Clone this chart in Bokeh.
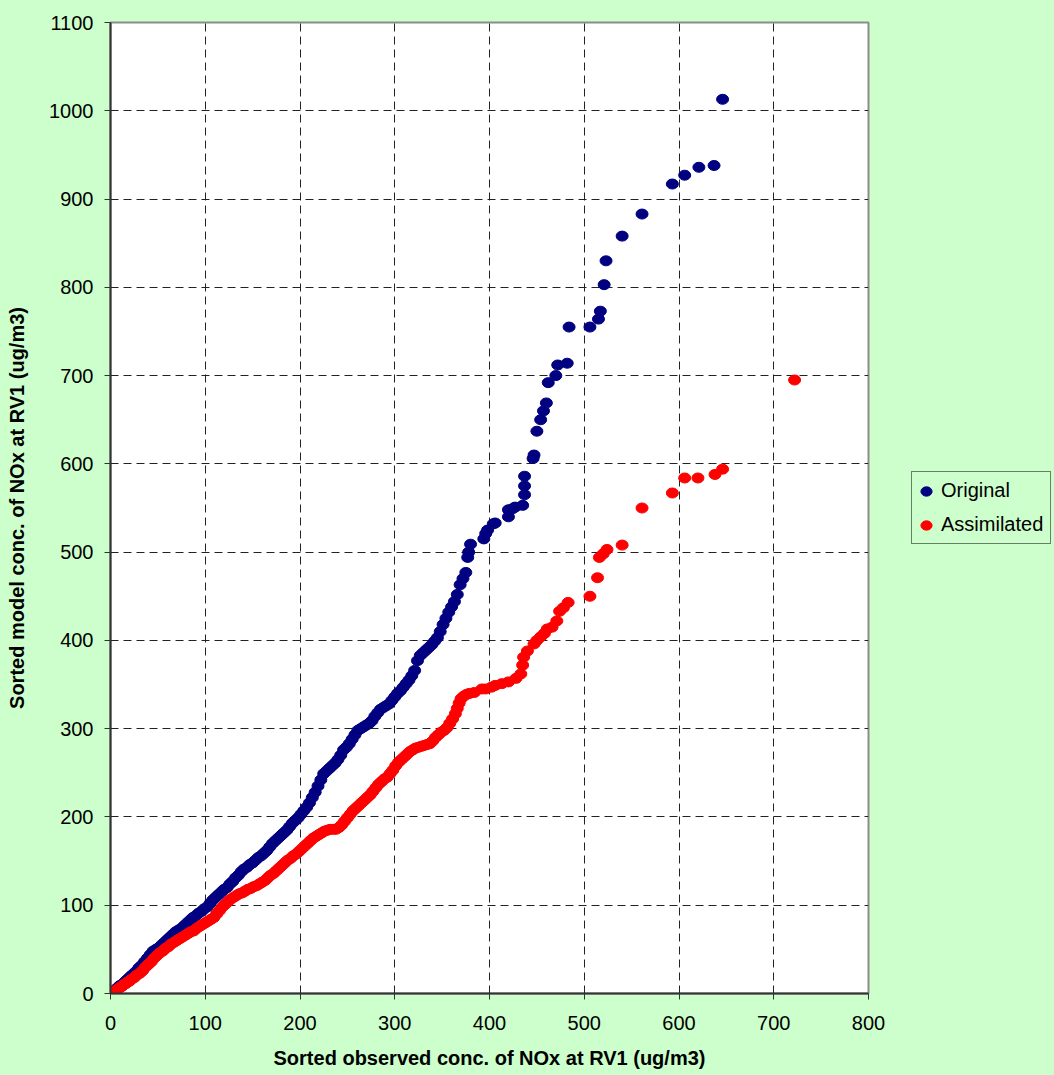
from bokeh.plotting import figure
from bokeh.models import Range1d, Legend, LegendItem, FixedTicker
from bokeh.layouts import row
from bokeh.embed import file_html
from bokeh.resources import INLINE

# Sorted observed (x) vs sorted model (y), NOx at RV1 (ug/m3)
orig_x = [0, 2, 4, 6, 8, 10, 12, 14, 16, 18, 20, 22, 24, 27, 30, 33, 36, 39, 42, 45,
          48, 51, 54, 57, 60, 63, 66, 69, 72, 75, 78, 81, 84, 87, 90, 93, 96, 99, 102, 105,
          108, 111, 114, 117, 120, 123, 126, 129, 132, 135, 138, 141, 144, 147, 150, 153, 156, 159, 162, 165,
          168, 171, 174, 177, 180, 183, 186, 189, 192, 195, 198, 201, 204, 207, 210, 213, 216, 219, 222, 225,
          228, 231, 234, 237, 240, 243, 246, 249, 252, 255, 258, 261, 264, 267, 270, 273, 276, 279, 282, 285,
          288, 291, 294, 297, 300, 303, 306, 309, 312, 315, 318, 321, 324, 327, 330, 333, 336, 339, 342, 345,
          348, 351, 354, 357, 360, 363, 366, 369, 372, 375, 377, 378, 380,
          394, 396, 398, 404, 406, 420, 420, 424, 427, 435, 437, 437, 437, 446, 447, 450, 454, 457, 460, 462,
          470, 472, 482, 484, 506, 515, 517, 521, 523, 540, 561, 593, 606, 621, 637, 646]
orig_y = [0, 2, 3, 5, 7, 9, 10, 12, 14, 16, 18, 20, 22, 25, 29, 32, 36, 40, 44, 48,
          50, 52, 55, 58, 61, 64, 67, 70, 72, 74, 77, 80, 83, 86, 88, 91, 93, 96, 98, 102,
          106, 109, 112, 115, 118, 120, 124, 127, 131, 134, 138, 141, 143, 146, 148, 151, 154, 156, 159, 162,
          166, 170, 173, 176, 179, 182, 185, 189, 193, 196, 199, 203, 207, 211, 216, 222, 228, 235, 242, 249,
          252, 255, 258, 261, 265, 270, 276, 279, 283, 288, 293, 298, 300, 302, 304, 306, 309, 314, 318, 322,
          324, 326, 328, 332, 336, 340, 343, 347, 351, 355, 360, 366, 377, 383, 386, 389, 392, 395, 399, 403,
          410, 418, 425, 432, 438, 444, 452, 463, 470, 477, 494, 500, 509,
          515, 521, 525, 532, 533, 540, 548, 549, 551, 553, 565, 575, 586, 606, 610, 637, 650, 660, 669, 692,
          700, 712, 714, 755, 755, 764, 773, 803, 830, 858, 883, 917, 927, 936, 938, 1013]

assim_x = [0, 2, 4, 6, 8, 10, 12, 14, 16, 18, 20, 22, 25, 28, 31, 34, 37, 40, 43, 46,
           49, 52, 55, 58, 61, 64, 67, 70, 73, 76, 79, 82, 85, 88, 91, 94, 97, 100, 103, 106,
           109, 112, 115, 118, 121, 124, 127, 130, 133, 136, 139, 142, 145, 148, 151, 154, 157, 160, 163, 166,
           169, 172, 175, 178, 181, 184, 187, 190, 193, 196, 199, 202, 205, 208, 211, 214, 217, 220, 223, 226,
           229, 232, 235, 238, 241, 244, 247, 250, 253, 256, 259, 262, 265, 268, 271, 274, 277, 280, 283, 286,
           289, 292, 295, 298, 301, 304, 307, 310, 313, 316, 319, 322, 325, 328, 331, 334, 337, 340, 343, 346,
           349, 352, 355, 358, 361, 364, 366, 368, 370, 373, 376, 379,
           384, 392, 396, 402, 406, 413, 420, 428, 433, 435, 436, 440, 447, 450, 454, 458, 461, 466, 471, 474,
           478, 483, 506, 514, 516, 520, 524, 540, 561, 593, 606, 620, 638, 646, 722]
assim_y = [0, 1, 2, 4, 5, 7, 8, 10, 11, 13, 14, 16, 18, 21, 23, 26, 30, 33, 36, 40,
           43, 46, 48, 51, 53, 56, 58, 60, 62, 64, 66, 68, 70, 71, 74, 76, 78, 80, 82, 84,
           86, 90, 94, 98, 101, 104, 107, 109, 111, 113, 114, 116, 118, 119, 121, 122, 124, 126, 128, 131,
           134, 136, 139, 142, 145, 148, 151, 153, 156, 158, 161, 164, 167, 170, 173, 176, 178, 180, 182, 184,
           185, 186, 186, 186, 188, 191, 195, 199, 203, 207, 210, 213, 216, 219, 222, 225, 229, 233, 237, 240,
           243, 245, 249, 253, 258, 262, 265, 268, 271, 274, 276, 278, 279, 280, 281, 282, 283, 286, 290, 293,
           296, 298, 301, 306, 311, 317, 323, 329, 334, 337, 339, 340,
           341, 345, 345, 347, 349, 351, 353, 357, 362, 372, 381, 388, 396, 400, 404, 408, 413, 415, 422, 433,
           437, 443, 450, 471, 494, 498, 503, 508, 550, 567, 584, 584, 588, 594, 695]

x_ticks = [0, 100, 200, 300, 400, 500, 600, 700, 800]
y_ticks = [0, 100, 200, 300, 400, 500, 600, 700, 800, 900, 1000, 1100]
series_names = ["Original", "Assimilated"]
series_colors = ["#000080", "#FF0000"]
series_x = [orig_x, assim_x]
series_y = [orig_y, assim_y]

FONT = "Liberation Sans"
BG = "#CCFFCC"

# ---- main chart ----
p = figure(width=890, height=1075, output_backend="svg", toolbar_location=None,
           x_range=Range1d(0, 800), y_range=Range1d(0, 1100),
           min_border_left=110, min_border_right=22, min_border_top=22, min_border_bottom=82)
p.border_fill_color = BG
p.background_fill_color = "white"
p.outline_line_color = "#8C8C8C"
p.outline_line_width = 2

p.xaxis.ticker = FixedTicker(ticks=x_ticks)
p.yaxis.ticker = FixedTicker(ticks=y_ticks)

for ax in (p.xaxis[0], p.yaxis[0]):
    ax.axis_line_color = "#333333"
    ax.axis_line_width = 2
    ax.major_tick_line_color = "#333333"
    ax.major_tick_line_width = 1
    ax.major_tick_out = 6
    ax.major_tick_in = 0
    ax.minor_tick_line_color = None
    ax.major_label_text_font = FONT
    ax.major_label_text_font_size = "20px"
    ax.major_label_text_color = "black"
    ax.axis_label_text_font = FONT
    ax.axis_label_text_font_size = "20px"
    ax.axis_label_text_font_style = "bold"
    ax.axis_label_text_color = "black"

p.xaxis.axis_label = "Sorted observed conc. of NOx at RV1 (ug/m3)"
p.yaxis.axis_label = "Sorted model conc. of NOx at RV1 (ug/m3)"
p.xaxis.major_label_standoff = 16
p.xaxis.axis_label_standoff = 14
p.yaxis.major_label_standoff = 11
p.yaxis.axis_label_standoff = 18

for g in (p.xgrid[0], p.ygrid[0]):
    g.grid_line_color = "#222222"
    g.grid_line_width = 1
    g.grid_line_dash = "8 5"

for xs, ys, col in zip(series_x, series_y, series_colors):
    p.ellipse(x=xs, y=ys, width=12, height=10,
              width_units="screen", height_units="screen",
              fill_color=col, line_color=col)

# ---- legend panel (to the right of the chart); the data lie outside its ranges ----
lg = figure(width=164, height=1075, output_backend="svg", toolbar_location=None,
            x_axis_type=None, y_axis_type=None,
            x_range=Range1d(-2, -1), y_range=Range1d(-2, -1),
            min_border_left=0, min_border_right=0, min_border_top=0, min_border_bottom=0)
lg.grid.visible = False
lg.outline_line_color = None
lg.background_fill_color = BG
lg.border_fill_color = BG

items = []
for name, xs, ys, col in zip(series_names, series_x, series_y, series_colors):
    r = lg.ellipse(x=xs, y=ys, width=12, height=10,
                   width_units="screen", height_units="screen",
                   fill_color=col, line_color=col)
    items.append(LegendItem(label=name, renderers=[r]))

legend = Legend(items=items, location=(21, 449))
legend.border_line_color = "black"
legend.border_line_width = 1
legend.background_fill_color = BG
legend.background_fill_alpha = 1
legend.label_text_font = FONT
legend.label_text_font_size = "20px"
legend.label_text_color = "black"
legend.glyph_width = 14
legend.glyph_height = 14
legend.label_standoff = 8
legend.padding = 7
legend.spacing = 11
legend.margin = 0
legend.label_height = 23
lg.add_layout(legend)

layout = row(p, lg, spacing=0, styles={"background-color": BG})
open("out.html", "w").write(file_html(layout, INLINE))
